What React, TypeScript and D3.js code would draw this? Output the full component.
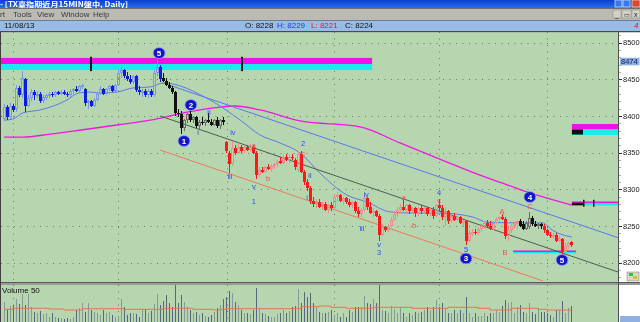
import React from "react";
import * as d3 from "d3";

// ---------- DATA ----------
// 15-min candles [open, high, low, close]
const candles: [number, number, number, number][] = [
  [8396,8416,8394,8412],[8412,8415,8395,8398],[8398,8418,8396,8414],[8414,8416,8405,8408],[8410,8442,8405,8438],
  [8438,8440,8426,8428],[8428,8461,8424,8452],[8450,8452,8405,8414],[8414,8428,8412,8424],[8424,8436,8420,8432],
  [8432,8435,8422,8428],[8428,8434,8424,8430],[8430,8432,8418,8420],[8420,8428,8418,8426],[8424,8430,8421,8428],
  [8428,8432,8424,8430],[8430,8433,8426,8428],[8428,8434,8426,8432],[8432,8434,8428,8430],[8430,8435,8428,8433],
  [8433,8435,8428,8430],[8430,8432,8426,8428],[8428,8436,8426,8434],[8434,8438,8430,8436],[8436,8440,8432,8434],
  [8434,8442,8432,8440],[8440,8444,8436,8442],[8436,8438,8414,8418],[8418,8422,8410,8420],[8420,8422,8412,8414],
  [8414,8424,8412,8422],[8422,8432,8420,8430],[8430,8440,8428,8436],[8436,8438,8428,8430],[8430,8438,8428,8436],
  [8436,8442,8434,8440],[8440,8442,8432,8434],[8434,8444,8432,8442],[8442,8462,8440,8458],[8458,8466,8452,8462],
  [8462,8464,8452,8455],[8455,8460,8448,8450],[8450,8456,8444,8446],[8446,8456,8444,8454],[8454,8456,8432,8435],
  [8435,8440,8428,8432],[8432,8436,8426,8434],[8434,8436,8426,8428],[8428,8436,8424,8434],[8434,8436,8426,8428],
  [8428,8462,8426,8458],[8458,8476,8455,8466],[8466,8470,8446,8450],[8452,8458,8446,8448],[8448,8452,8440,8442],
  [8442,8446,8436,8438],[8438,8440,8430,8432],[8432,8434,8400,8404],[8404,8410,8398,8402],[8402,8406,8375,8384],
  [8384,8396,8380,8394],[8394,8404,8390,8402],[8402,8408,8392,8394],[8394,8400,8390,8398],[8398,8400,8384,8386],
  [8386,8394,8382,8392],[8392,8398,8388,8390],[8390,8396,8386,8394],[8394,8404,8390,8392],[8392,8396,8386,8388],
  [8388,8396,8386,8394],[8394,8398,8384,8386],[8386,8396,8382,8394],[8394,8398,8388,8392],[8364,8366,8350,8352],
  [8350,8352,8322,8334],[8334,8366,8332,8356],[8356,8360,8346,8350],[8350,8362,8348,8358],[8358,8360,8350,8352],
  [8352,8360,8350,8358],[8358,8360,8352,8354],[8354,8362,8352,8360],[8358,8360,8348,8350],[8350,8352,8314,8320],
  [8320,8330,8316,8326],[8326,8330,8322,8324],[8324,8332,8322,8330],[8330,8334,8326,8328],[8328,8334,8324,8332],
  [8332,8336,8328,8334],[8334,8340,8330,8338],[8338,8344,8334,8336],[8336,8346,8334,8344],[8344,8348,8338,8340],
  [8340,8346,8336,8344],[8344,8348,8340,8342],[8340,8342,8326,8330],[8326,8352,8324,8348],[8348,8352,8322,8324],
  [8324,8326,8306,8310],[8310,8314,8298,8302],[8302,8304,8280,8284],[8284,8290,8276,8280],[8280,8286,8274,8282],
  [8282,8286,8274,8276],[8276,8282,8272,8280],[8280,8282,8270,8272],[8272,8280,8268,8278],[8278,8282,8270,8274],
  [8274,8294,8272,8290],[8290,8296,8282,8292],[8292,8294,8282,8284],[8284,8290,8278,8288],[8288,8290,8280,8282],
  [8282,8286,8276,8278],[8278,8284,8274,8282],[8282,8284,8268,8270],[8270,8276,8262,8266],[8266,8274,8262,8272],
  [8272,8292,8270,8288],[8288,8290,8272,8276],[8276,8282,8266,8268],[8268,8274,8262,8270],[8270,8272,8262,8264],
  [8264,8266,8230,8238],[8238,8252,8236,8248],[8248,8250,8242,8244],[8244,8252,8242,8250],[8250,8262,8248,8258],
  [8258,8270,8256,8266],[8266,8276,8262,8272],[8272,8280,8268,8276],[8276,8286,8270,8272],[8272,8280,8268,8278],
  [8278,8280,8266,8270],[8270,8276,8266,8274],[8274,8276,8262,8268],[8268,8276,8264,8274],[8274,8278,8266,8270],
  [8270,8276,8266,8274],[8274,8276,8264,8266],[8266,8274,8264,8272],[8272,8276,8260,8264],[8264,8280,8262,8278],
  [8278,8286,8270,8274],[8274,8278,8258,8262],[8262,8276,8250,8270],[8270,8272,8252,8256],[8256,8266,8254,8264],
  [8264,8268,8256,8258],[8258,8266,8256,8262],[8262,8264,8252,8254],[8254,8258,8250,8256],[8256,8258,8224,8230],
  [8230,8244,8228,8240],[8240,8246,8236,8242],[8242,8246,8238,8240],[8240,8248,8238,8246],[8246,8252,8242,8250],
  [8250,8256,8246,8254],[8254,8258,8248,8250],[8250,8256,8244,8246],[8246,8256,8244,8254],[8254,8262,8252,8260],
  [8260,8264,8256,8262],[8262,8266,8258,8260],[8260,8262,8232,8236],[8236,8248,8230,8244],[8244,8252,8240,8250],
  [8250,8256,8246,8252],[8252,8258,8246,8256],[8256,8260,8248,8250],[8252,8256,8244,8246],[8246,8256,8244,8254],
  [8249,8269,8246,8261],[8261,8264,8250,8252],[8252,8256,8248,8250],[8250,8254,8246,8252],[8252,8254,8246,8250],
  [8250,8252,8240,8244],[8244,8246,8236,8238],[8238,8242,8234,8236],[8236,8240,8232,8238],[8238,8240,8228,8230],
  [8230,8236,8228,8234],[8232,8234,8210,8214],[8214,8226,8212,8222],[8222,8228,8218,8226],[8228,8229,8221,8224],
];

const volumes: number[] = [
  23,15,19,20,26,21,31,20,31,18, 13,12,14,11,12,8,12,8,7,7,
  6,7,6,8,15,17,22,13,22,15, 13,12,10,15,12,13,10,8,9,26,
  18,10,12,12,11,8,15,16,12,14, 21,31,20,24,30,22,18,41,22,30,
  23,18,15,12,13,10,12,9,8,10, 13,17,20,26,28,34,32,23,20,15,
  12,12,11,15,37,16,12,11,9,8, 8,11,12,15,12,14,18,19,36,22,
  33,28,32,22,18,13,12,12,13,15, 10,12,8,12,8,15,13,18,18,18,
  29,22,21,26,22,40,15,14,12,19, 16,12,18,12,8,12,10,13,12,13,
  15,18,15,18,25,18,22,16,12,12, 15,12,15,12,28,12,8,12,9,9,
  12,9,12,12,15,13,19,25,22,23, 12,18,20,13,12,22,13,11,17,13,
  13,12,10,8,15,15,24,12,17,19,
];

// colour runs of the candles (index where each run starts)
const runStarts = [0, 53, 74, 172, 180];
const runGroups = ["blue", "black", "red", "black", "red"];

const priceTicks = [8500, 8450, 8400, 8350, 8300, 8250, 8200];
const gridIdx = [3, 38, 74.3, 110, 145, 181];

// moving averages as read: [candle index, price]
const magentaMA: [number, number][] = [
  [0,8371],[6.3,8371],[15.3,8375],[26.3,8381],[37.7,8387.5],[48.7,8394],[61,8405],[72,8412],
  [77,8413.4],[85.3,8408],[98.7,8393],[118.7,8385],[132,8363],[147.7,8337],[158.7,8319],
  [167.7,8306],[175.3,8295],[189.3,8278.4],
];
const blueMA: [number, number][] = [
  [0,8394],[3,8395.7],[6.3,8404],[12,8408],[21,8421.6],[24.7,8431],[28.7,8432.5],[32,8431],
  [37.7,8432.5],[43,8438],[48.7,8439.3],[53,8444.8],[68.7,8421.6],[78.7,8394.3],[85.3,8374],
  [92,8363],[98.7,8349.3],[105.3,8322],[114.3,8292],[121,8282.5],[128.7,8269],[135.3,8267.5],
  [145.3,8267.5],[156.3,8262],[161,8255],[171,8254],[179.7,8254],[182.7,8244.3],[189.3,8234.8],
];
const volMA: [number, number][] = [
  [0,15.7],[3,16.7],[7,16.7],[15,16],[20,15],[24,15],[26,16.3],[38,16.3],[40,15.7],[51,15.7],
  [53,16.7],[61,16.7],[63,15.7],[70,15],[72,15.7],[74,16.3],[96,16.3],[99,18.3],[105,19],
  [109,17.7],[114,16.7],[123,17.7],[136,16.7],[148,17.7],[158,16.7],[162,15],[168,15],
  [169,16.7],[175,16.7],[178,15.7],[181,15],[189,15],
];

// straight channel lines [index, price]
const trendBlue: [number, number][] = [[53, 8444.8], [205, 8233.4]];
const trendGray: [number, number][] = [[52, 8399.8], [204.7, 8187]];
const trendSalmon: [number, number][] = [[52, 8353.4], [179.7, 8174.8]];

// Elliott wave circle markers
const circleText = ["5", "2", "1", "3", "4", "5"];
const circleIdx = [51.7, 62.3, 60, 154, 175.3, 186];
const circlePrice = [8485.7, 8414.8, 8365.7, 8205.5, 8289.3, 8203.4];

// blue wave labels
const blueText = ["i", "ii", "iii", "iv", "v", "1", "2", "ii", "i", "iii", "iv", "v", "3", "4", "5"];
const blueIdx = [64.7, 68.3, 75.3, 76.3, 83.3, 83.3, 99.7, 102, 101, 119.3, 120.7, 125, 125, 145, 154];
const bluePrice = [8376.6, 8403.9, 8316.6, 8376.6, 8304.3, 8283.8, 8362.5, 8319.3, 8289.3, 8247, 8293.4, 8225, 8213.5, 8295.5, 8217.5];

// red corrective labels
const redText = ["a", "b", "c", "a", "b", "c", "A", "B", "C"];
const redIdx = [83.3, 88, 99.7, 133.3, 136.7, 145, 166, 167, 175.3];
const redPrice = [8360.2, 8313.9, 8349, 8288, 8251.1, 8283.9, 8268.9, 8214.3, 8277];

// info bar
const infoDate = "11/08/13";
const infoO = 8228, infoH = 8229, infoL = 8221, infoC = 8224;
const cursorPrice = 8474;

const palette: Record<string, { up: string; down: string }> = {
  blue: { up: "#7d96f0", down: "#0a1ee0" },
  black: { up: "#6c6c6c", down: "#101010" },
  red: { up: "#f08c8c", down: "#ff1818" },
};

const SANS = "'Liberation Sans', Arial, sans-serif";

export default function App() {
  const PL = 1, PR = 618, PT = 32, PB = 282, VT = 285, VB = 322;
  const x = d3.scaleLinear().domain([0, 189]).range([4, 571]);
  const y = d3.scaleLinear().domain([8200, 8500]).range([262.5, 42.5]);
  const yv = d3.scaleLinear().domain([0, 40]).range([325, 285]);

  const groupOf = (i: number) => {
    let g = runGroups[0];
    runStarts.forEach((s, k) => { if (i >= s) g = runGroups[k]; });
    return g;
  };

  const curve = d3.line<[number, number]>().x(d => x(d[0])).y(d => y(d[1])).curve(d3.curveMonotoneX);
  const straight = d3.line<[number, number]>().x(d => x(d[0])).y(d => y(d[1]));
  const volLine = d3.line<[number, number]>().x(d => x(d[0])).y(d => yv(d[1])).curve(d3.curveStepAfter);

  const minorTicks = d3.range(8180, 8511, 10);

  const band = (i0: number, i1: number, pTop: number, pBot: number, fill: string, key: string) => (
    <rect key={key} x={x(i0)} y={y(pTop)} width={x(i1) - x(i0)} height={y(pBot) - y(pTop)} fill={fill} />
  );

  return (
    <div style={{ position: "fixed", left: 0, top: 0, width: 640, height: 322, overflow: "hidden" }}>
      <svg width={640} height={322} style={{ display: "block" }} fontFamily={SANS}>
        <defs>
          <linearGradient id="tbar" x1="0" y1="0" x2="0" y2="1">
            <stop offset="0" stopColor="#0a3fd0" />
            <stop offset="1" stopColor="#2a6ef0" />
          </linearGradient>
          <clipPath id="plotClip"><rect x={PL} y={PT} width={PR - PL} height={PB - PT} /></clipPath>
          <clipPath id="volClip"><rect x={PL} y={VT} width={PR - PL} height={VB - VT} /></clipPath>
        </defs>

        {/* window chrome */}
        <rect x={0} y={0} width={640} height={8} fill="url(#tbar)" />
        <text x={0} y={7.2} fontSize={7} fill="#fff" fontWeight="bold" fontFamily="'Noto Sans CJK TC', sans-serif"
          textLength={128} lengthAdjust="spacingAndGlyphs">- [TX臺指期近月15MIN盤中, Daily]</text>
        <rect x={615} y={0} width={7} height={7} fill="#3a78f0" stroke="#fff" strokeWidth={0.6} />
        <rect x={623} y={0} width={7} height={7} fill="#3a78f0" stroke="#fff" strokeWidth={0.6} />
        <rect x={632} y={0} width={8} height={7} fill="#d8482a" stroke="#fff" strokeWidth={0.6} />
        <rect x={0} y={8} width={640} height={12} fill="#bdbab4" />
        <line x1={0} x2={640} y1={8.5} y2={8.5} stroke="#6e6e6e" />
        {[["rt", 0], ["Tools", 13], ["View", 37], ["Window", 61], ["Help", 93]].map(([t, px]) => (
          <text key={t as string} x={px as number} y={17} fontSize={8} fill="#3a3a3a">{t}</text>
        ))}
        <rect x={613} y={10} width={8} height={8} fill="#d4d0c8" stroke="#888" strokeWidth={0.5} />
        <rect x={622} y={10} width={9} height={8} fill="#d4d0c8" stroke="#888" strokeWidth={0.5} />
        <rect x={632} y={10} width={8} height={8} fill="#d4d0c8" stroke="#888" strokeWidth={0.5} />
        <text x={615} y={17} fontSize={7} fill="#222">_</text>
        <text x={624} y={17} fontSize={6} fill="#222">▭</text>
        <text x={634} y={17} fontSize={7} fill="#222">x</text>
        <rect x={0} y={20} width={640} height={11} fill="#98bce6" />
        <line x1={0} x2={640} y1={20.5} y2={20.5} stroke="#6d7d90" />
        <text x={4} y={28} fontSize={8} fill="#111">{infoDate}</text>
        <text x={245} y={28} fontSize={8} fill="#111">O: {infoO}</text>
        <text x={277} y={28} fontSize={8} fill="#1a3cf0">H: {infoH}</text>
        <text x={311} y={28} fontSize={8} fill="#e02020">L: {infoL}</text>
        <text x={345} y={28} fontSize={8} fill="#111">C: {infoC}</text>
        <text x={634} y={28} fontSize={8} fill="#e02020" fontStyle="italic">4</text>
        <rect x={0} y={31} width={640} height={1.5} fill="#4a4a4a" />

        {/* panels */}
        <rect x={0} y={32.5} width={PR} height={PB - 32.5} fill="#b6d6b0" />
        <rect x={PR} y={32.5} width={640 - PR} height={322 - 32.5} fill="#ffffff" />
        <rect x={0} y={PB} width={640} height={3} fill="#9a9a9a" />
        <line x1={0} x2={640} y1={PB + 0.5} y2={PB + 0.5} stroke="#5a5a5a" />
        <rect x={0} y={VT} width={PR} height={VB - VT} fill="#b6d6b0" />
        <line x1={0.5} x2={0.5} y1={32} y2={322} stroke="#404040" />
        <line x1={PR + 0.5} x2={PR + 0.5} y1={32} y2={322} stroke="#505050" />

        {/* grid */}
        {priceTicks.map(p => (
          <line key={"h" + p} x1={PL} x2={PR} y1={Math.round(y(p)) + 0.5} y2={Math.round(y(p)) + 0.5}
            stroke="#6a7a68" strokeDasharray="1,5.5" />
        ))}
        {gridIdx.map(g => (
          <g key={"v" + g}>
            <line x1={Math.round(x(g)) + 0.5} x2={Math.round(x(g)) + 0.5} y1={PT} y2={PB}
              stroke="#6a7a68" strokeDasharray="1,5.5" />
            <line x1={Math.round(x(g)) + 0.5} x2={Math.round(x(g)) + 0.5} y1={VT} y2={VB}
              stroke="#6a7a68" strokeDasharray="1,5.5" />
          </g>
        ))}

        <g clipPath="url(#plotClip)">
          {/* top resistance band */}
          {band(-1.5, 122.7, 8479, 8470.7, "#f010e8", "tb1")}
          {band(-1.5, 122.7, 8470.7, 8462.5, "#18ecec", "tb2")}
          {[28.7, 79].map(t => (
            <rect key={"tk" + t} x={Math.round(x(t))} y={y(8480.5)} width={2} height={y(8461) - y(8480.5)} fill="#111" />
          ))}
          {/* right markers */}
          {band(189.3, 206, 8388.9, 8381.4, "#f010e8", "r1a")}
          {band(189.3, 206, 8381.4, 8373.9, "#18ecec", "r1b")}
          {band(189.3, 193, 8381.4, 8374.5, "#101010", "r1c")}
          {band(189.3, 206, 8283.2, 8280.5, "#f010e8", "r2a")}
          {band(189.3, 206, 8280.5, 8277.7, "#18ecec", "r2b")}
          {band(189.3, 193, 8281.5, 8278, "#101010", "r2c")}
          {[193, 196.3].map(t => (
            <rect key={"rk" + t} x={Math.round(x(t))} y={y(8285.5)} width={1.5} height={y(8276) - y(8285.5)} fill="#111" />
          ))}
          {/* bottom support band */}
          {band(169.7, 190.7, 8216.4, 8214.3, "#f010e8", "bb1")}
          {band(169.7, 190.7, 8214.3, 8212.3, "#18ecec", "bb2")}

          {/* moving averages */}
          <path d={curve(magentaMA) || ""} fill="none" stroke="#f018e0" strokeWidth={1.3} />
          <path d={curve(blueMA) || ""} fill="none" stroke="#6078e8" strokeWidth={1} />
          {/* channel lines */}
          <path d={straight(trendBlue) || ""} fill="none" stroke="#5a78ec" strokeWidth={1} />
          <path d={straight(trendGray) || ""} fill="none" stroke="#4e5e50" strokeWidth={1} />
          <path d={straight(trendSalmon) || ""} fill="none" stroke="#f07858" strokeWidth={1} />

          {/* candles */}
          {candles.map(([o, h, l, c], i) => {
            const cx = Math.round(x(i));
            const g = palette[groupOf(i)];
            const up = c >= o;
            const col = up ? g.up : g.down;
            const yT = Math.round(y(Math.max(o, c)));
            const yB = Math.round(y(Math.min(o, c)));
            const yH = Math.round(y(h));
            const yL = Math.round(y(l));
            return (
              <g key={"c" + i}>
                <line x1={cx + 0.5} x2={cx + 0.5} y1={yH} y2={yT} stroke={col} />
                <line x1={cx + 0.5} x2={cx + 0.5} y1={yB} y2={yL} stroke={col} />
                {up ? (
                  <rect x={cx - 0.5} y={yT + 0.5} width={2} height={Math.max(1, yB - yT - 1)} fill="none" stroke={col} />
                ) : (
                  <rect x={cx - 1} y={yT} width={3} height={Math.max(1, yB - yT)} fill={col} />
                )}
              </g>
            );
          })}

          {/* wave labels */}
          {blueText.map((t, k) => (
            <text key={"bl" + k} x={x(blueIdx[k])} y={y(bluePrice[k])} fontSize={7.5} fill="#2a4cf4"
              textAnchor="middle" dominantBaseline="central">{t}</text>
          ))}
          {redText.map((t, k) => (
            <text key={"rl" + k} x={x(redIdx[k])} y={y(redPrice[k])} fontSize={7.5} fill="#f05050"
              textAnchor="middle" dominantBaseline="central">{t}</text>
          ))}
          {circleText.map((t, k) => (
            <g key={"ci" + k}>
              <ellipse cx={x(circleIdx[k])} cy={y(circlePrice[k])} rx={6} ry={5.5} fill="#1414c8" stroke="#9aa8ff" strokeWidth={0.8} />
              <text x={x(circleIdx[k])} y={y(circlePrice[k]) + 0.5} fontSize={8} fontWeight="bold" fill="#ffffff"
                textAnchor="middle" dominantBaseline="central">{t}</text>
            </g>
          ))}
        </g>

        {/* volume */}
        <g clipPath="url(#volClip)">
          {volumes.map((v, i) => {
            const cx = Math.round(x(i));
            const [o, , , c] = candles[i];
            return (
              <line key={"v" + i} x1={cx + 0.5} x2={cx + 0.5} y1={Math.round(yv(v))} y2={VB}
                stroke={c >= o ? "#879a98" : "#56687a"} />
            );
          })}
          <path d={volLine(volMA) || ""} fill="none" stroke="#f0704c" strokeWidth={1} />
        </g>
        <text x={2} y={293} fontSize={8} fill="#111">Volume 50</text>

        {/* right price axis */}
        {minorTicks.map(p => (
          <line key={"m" + p} x1={PR + 1} x2={PR + 3} y1={Math.round(y(p)) + 0.5} y2={Math.round(y(p)) + 0.5}
            stroke="#777" strokeWidth={0.6} />
        ))}
        {priceTicks.map(p => (
          <g key={"t" + p}>
            <line x1={PR + 1} x2={PR + 4} y1={Math.round(y(p)) + 0.5} y2={Math.round(y(p)) + 0.5} stroke="#333" />
            <text x={623} y={y(p) + 2.8} fontSize={7.5} fill="#222">{p}</text>
          </g>
        ))}
        <rect x={620} y={y(cursorPrice) - 3.8} width={19.5} height={7.6} fill="#8fb0e0" />
        <text x={621} y={y(cursorPrice) + 2.7} fontSize={7.5} fill="#0a1a60">{cursorPrice}</text>

        {/* bottom-right widgets */}
        <rect x={627} y={272} width={12} height={9} fill="#d8d8c8" stroke="#777" strokeWidth={0.5} />
        <rect x={629} y={273} width={4} height={3} fill="#40c040" />
        <rect x={633} y={276} width={4} height={3} fill="#e0c020" />
        <rect x={620} y={316} width={20} height={6} fill="#8fb0e0" />
      </svg>
    </div>
  );
}
